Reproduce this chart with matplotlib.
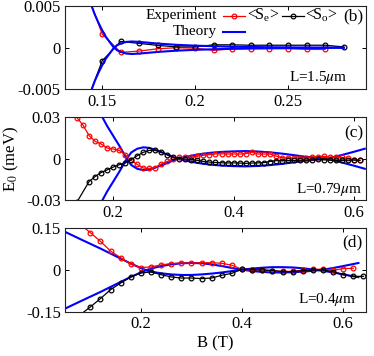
import numpy as np
import matplotlib.pyplot as plt
from matplotlib.lines import Line2D

plt.rcParams['font.family'] = ['Liberation Serif', 'DejaVu Serif']
plt.rcParams['mathtext.fontset'] = 'stix'

# ---------------- panel (b), L = 1.5 um ----------------
b_red_B = [0.14, 0.15, 0.16, 0.17, 0.18, 0.19, 0.20, 0.21, 0.22, 0.23, 0.24, 0.25, 0.26, 0.27]
b_red_E = [0.0076, 0.00165, -0.00055, -0.0004, -0.00012, 0.0, -0.00005, -0.0003, -0.00015,
           -0.0001, -0.0001, -0.0001, -0.0002, -0.0002]
b_blk_B = [0.14, 0.15, 0.16, 0.17, 0.18, 0.19, 0.20, 0.21, 0.22, 0.23, 0.24, 0.25, 0.26, 0.27, 0.28]
b_blk_E = [-0.0075, -0.00157, 0.00075, 0.00052, 0.00028, 0.0001, 0.0001, 0.00035, 0.00035,
           0.0003, 0.0003, 0.0003, 0.0003, 0.0003, 0.0001]
b_th_B = [0.144, 0.146, 0.148, 0.150, 0.152, 0.154, 0.156, 0.158, 0.160, 0.163, 0.166, 0.170,
          0.175, 0.18, 0.19, 0.20, 0.22, 0.24, 0.26, 0.28]
b_th_E = [0.0052, 0.0040, 0.0030, 0.0021, 0.0013, 0.0007, 0.0001, -0.0003, -0.0005, -0.0007,
          -0.00075, -0.0007, -0.0006, -0.0005, -0.00035, -0.00025, -0.00012, -0.00006, -0.00003, 0.0]

# ---------------- panel (c), L = 0.79 um ----------------
c_red_B = np.round(np.arange(0.14, 0.615, 0.01), 2)
c_red_E = [0.0294, 0.0241, 0.0166, 0.0125, 0.0106, 0.0077, 0.0070, 0.0060, 0.0029, -0.0012,
           -0.0041, -0.0067, -0.0070, -0.0063, -0.0038, -0.0019, -0.0002, 0.0009, 0.0009, 0.0012,
           0.0018, 0.0025, 0.0030, 0.0034, 0.0036, 0.0034, 0.0034, 0.0034, 0.0036, 0.0047,
           0.0034, 0.0034, 0.0034, 0.0020, 0.0008, 0.0005, 0.0004, 0.0006, 0.0008, 0.0012,
           0.0015, 0.0017, 0.0012, 0.0014, 0.0010, 0.0002, -0.0006, -0.0010]
c_blk_B = [0.14] + list(np.round(np.arange(0.16, 0.615, 0.01), 2))
c_blk_E = [-0.0310, -0.0164, -0.0128, -0.0099, -0.0080, -0.0060, -0.0043, -0.0031, -0.0007, 0.0022,
           0.0046, 0.0060, 0.0060, 0.0048, 0.0029, 0.0010, 0.0000, -0.0002, -0.0007, -0.0012,
           -0.0019, -0.0024, -0.0027, -0.0029, -0.0030, -0.0030, -0.0031, -0.0033, -0.0031, -0.0030,
           -0.0028, -0.0020, -0.0014, -0.0014, -0.0012, -0.0012, -0.0010, -0.0010, -0.0008, -0.0005,
           -0.0008, -0.0010, -0.0012, -0.0012, -0.0010, -0.0010, -0.0012]
c_th_B = [0.180, 0.19, 0.20, 0.21, 0.22, 0.225, 0.23, 0.24, 0.25, 0.26, 0.27, 0.28, 0.29, 0.30,
          0.31, 0.32, 0.34, 0.36, 0.38, 0.40, 0.42, 0.44, 0.46, 0.48, 0.50, 0.52, 0.54, 0.555,
          0.56, 0.58, 0.60, 0.618]
c_th_E = [0.0315, 0.0235, 0.0165, 0.0095, 0.0020, -0.0015, -0.0045, -0.0072, -0.0082, -0.0078,
          -0.0064, -0.0047, -0.0030, -0.0012, 0.0002, 0.0013, 0.0030, 0.0042, 0.0049, 0.0053,
          0.0055, 0.0052, 0.0046, 0.0037, 0.0026, 0.0014, 0.0006, 0.0, -0.0005, -0.0027,
          -0.0050, -0.0072]

# ---------------- panel (d), L = 0.4 um ----------------
d_red_B = np.round(np.arange(0.08, 0.625, 0.02), 2)
d_red_E = [0.165, 0.135, 0.104, 0.069, 0.045, 0.0215, 0.0095, 0.012, 0.019, 0.024, 0.026, 0.026,
           0.027, 0.027, 0.025, 0.018, 0.003, 0.000, 0.002, -0.002, -0.004, -0.004, 0.000, 0.003,
           0.004, 0.000, 0.006, 0.007]
d_blk_B = np.round(np.arange(0.08, 0.645, 0.02), 2)
d_blk_E = [-0.160, -0.132, -0.102, -0.070, -0.046, -0.024, -0.010, -0.006, -0.016, -0.024, -0.028,
           -0.028, -0.030, -0.028, -0.018, -0.011, 0.004, 0.002, 0.001, -0.001, -0.005, -0.005,
           -0.001, 0.001, 0.001, -0.005, -0.016, -0.022, -0.022]
d_th_B = [0.05, 0.08, 0.10, 0.12, 0.14, 0.16, 0.18, 0.20, 0.21, 0.22, 0.24, 0.26, 0.28, 0.30, 0.32,
          0.34, 0.36, 0.38, 0.40, 0.42, 0.44, 0.46, 0.48, 0.50, 0.52, 0.54, 0.56, 0.58, 0.60, 0.63]
d_th1_E = [0.138, 0.112, 0.095, 0.078, 0.060, 0.042, 0.024, 0.008, 0.0, -0.005, -0.011, -0.015,
           -0.017, -0.017, -0.015, -0.012, -0.008, -0.003, 0.002, 0.006, 0.009, 0.011, 0.011, 0.010,
           0.007, 0.003, -0.002, -0.008, -0.015, -0.025]
d_th2_E = [-0.138, -0.112, -0.095, -0.078, -0.060, -0.042, -0.024, -0.008, 0.0, 0.006, 0.015, 0.021,
           0.025, 0.026, 0.025, 0.021, 0.015, 0.008, 0.002, -0.003, -0.006, -0.008, -0.008, -0.007,
           -0.005, -0.002, 0.002, 0.008, 0.015, 0.026]

fig = plt.figure(figsize=(3.74, 3.56), dpi=100)
x0, w, h = 0.1738, 0.8048, 0.2346
ax_b = fig.add_axes([x0, 0.7486, w, h])
ax_c = fig.add_axes([x0, 0.4368, w, h])
ax_d = fig.add_axes([x0, 0.1236, w, h])

exp_kw = dict(lw=0.9, marker='o', ms=3.4, mfc='none', mew=0.9)
th_kw = dict(color='b', lw=1.5)

# panel (b)
ax_b.plot(b_red_B, b_red_E, color='r', **exp_kw)
ax_b.plot(b_blk_B, b_blk_E, color='k', **exp_kw)
ax_b.plot(b_th_B, b_th_E, **th_kw)
ax_b.plot(b_th_B, -np.array(b_th_E), **th_kw)
ax_b.set_xlim(0.13, 0.292)
ax_b.set_ylim(-0.005, 0.005)
ax_b.set_xticks([0.15, 0.2, 0.25])
ax_b.set_xticklabels(['0.15', '0.2', '0.25'])
ax_b.set_yticks([-0.005, 0, 0.005])
ax_b.set_yticklabels(['-0.005', '0', '0.005'])

# panel (c)
ax_c.plot(c_th_B, c_th_E, **th_kw)
ax_c.plot(c_th_B, -np.array(c_th_E), **th_kw)
ax_c.plot(c_red_B, c_red_E, color='r', **exp_kw)
ax_c.plot(c_blk_B, c_blk_E, color='k', **exp_kw)
ax_c.set_xlim(0.12, 0.62)
ax_c.set_ylim(-0.03, 0.03)
ax_c.set_xticks([0.2, 0.4, 0.6])
ax_c.set_xticklabels(['0.2', '0.4', '0.6'])
ax_c.set_yticks([-0.03, 0, 0.03])
ax_c.set_yticklabels(['-0.03', '0', '0.03'])
ax_c.set_ylabel('E$_0$ (meV)', fontsize=12, labelpad=4)

# panel (d)
ax_d.plot(d_th_B, d_th1_E, **th_kw)
ax_d.plot(d_th_B, d_th2_E, **th_kw)
ax_d.plot(d_red_B, d_red_E, color='r', **exp_kw)
ax_d.plot(d_blk_B, d_blk_E, color='k', **exp_kw)
ax_d.set_xlim(0.05, 0.645)
ax_d.set_ylim(-0.15, 0.15)
ax_d.set_xticks([0.2, 0.4, 0.6])
ax_d.set_xticklabels(['0.2', '0.4', '0.6'])
ax_d.set_yticks([-0.15, 0, 0.15])
ax_d.set_yticklabels(['-0.15', '0', '0.15'])
ax_d.set_xlabel('B (T)', fontsize=12, labelpad=2)

for ax in (ax_b, ax_c, ax_d):
    ax.tick_params(direction='in', top=True, right=True, length=3, width=0.7,
                   labelsize=12, pad=3)
    for s in ax.spines.values():
        s.set_linewidth(0.8)
        s.set_color('#222222')

# legend in panel (b), MATLAB style
ax_b.text(0.505, 0.884, 'Experiment', transform=ax_b.transAxes, ha='right', va='center', fontsize=11)
ax_b.text(0.505, 0.692, 'Theory', transform=ax_b.transAxes, ha='right', va='center', fontsize=11)
ax_b.add_line(Line2D([0.525, 0.598], [0.884, 0.884], transform=ax_b.transAxes, color='r', lw=0.9))
ax_b.add_line(Line2D([0.561], [0.884], transform=ax_b.transAxes, color='r', marker='o', ms=3.4,
                     mfc='none', mew=0.9))
ax_b.text(0.603, 0.884, '<S$_\\mathregular{e}$>', transform=ax_b.transAxes, ha='left', va='center',
          fontsize=11.5)
ax_b.add_line(Line2D([0.721, 0.794], [0.884, 0.884], transform=ax_b.transAxes, color='k', lw=0.9))
ax_b.add_line(Line2D([0.757], [0.884], transform=ax_b.transAxes, color='k', marker='o', ms=3.4,
                     mfc='none', mew=0.9))
ax_b.text(0.797, 0.884, '<S$_\\mathregular{o}$>', transform=ax_b.transAxes, ha='left', va='center',
          fontsize=11.5)
ax_b.add_line(Line2D([0.525, 0.598], [0.685, 0.685], transform=ax_b.transAxes, color='b', lw=1.5))

ax_b.text(0.99, 0.87, '(b)', transform=ax_b.transAxes, ha='right', va='center', fontsize=12.5)
ax_c.text(0.99, 0.80, '(c)', transform=ax_c.transAxes, ha='right', va='center', fontsize=12.5)
ax_d.text(0.99, 0.83, '(d)', transform=ax_d.transAxes, ha='right', va='center', fontsize=12.5)

ax_b.text(0.94, 0.146, 'L=1.5$\\mu$m', transform=ax_b.transAxes, ha='right', va='center', fontsize=11)
ax_c.text(0.987, 0.126, 'L=0.79$\\mu$m', transform=ax_c.transAxes, ha='right', va='center', fontsize=11)
ax_d.text(0.97, 0.144, 'L=0.4$\\mu$m', transform=ax_d.transAxes, ha='right', va='center', fontsize=11)

fig.savefig('out.png', dpi=100)
